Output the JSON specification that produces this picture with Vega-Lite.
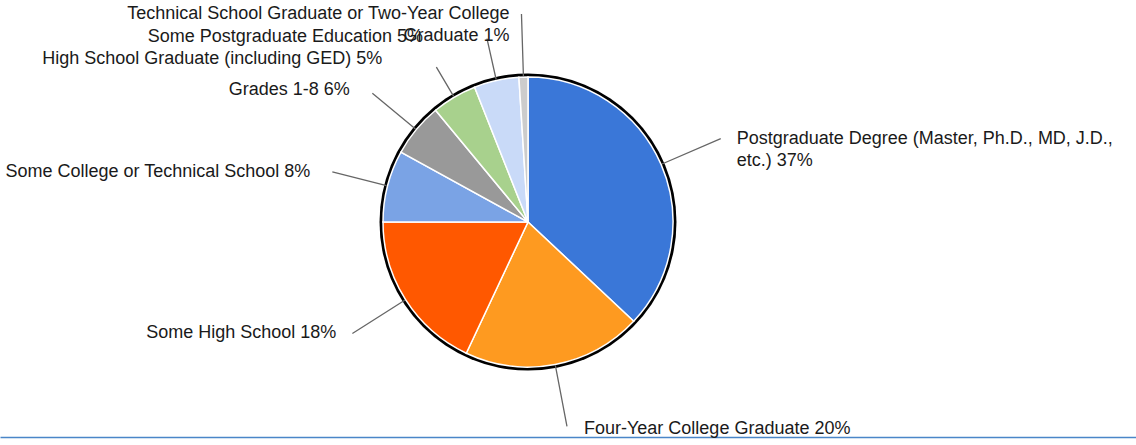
{
  "$schema": "https://vega.github.io/schema/vega-lite/v6.json",
  "autosize": {"type": "none"},
  "width": 1056,
  "height": 444,
  "padding": {"left": 0, "top": 0, "right": 80, "bottom": 1},
  "background": "white",
  "config": {"view": {"stroke": null}, "text": {"font": "Liberation Sans", "fontSize": 18, "color": "#1a1a1a", "lineBreak": "\n", "lineHeight": 22}},
  "data": {"values": [
    {"category": "Postgraduate Degree (Master, Ph.D., MD, J.D., etc.)", "pct": 37, "rank": 1, "label": "Postgraduate Degree (Master, Ph.D., MD, J.D.,\netc.) 37%"},
    {"category": "Four-Year College Graduate", "pct": 20, "rank": 2, "label": "Four-Year College Graduate 20%"},
    {"category": "Some High School", "pct": 18, "rank": 3, "label": "Some High School 18%"},
    {"category": "Some College or Technical School", "pct": 8, "rank": 4, "label": "Some College or Technical School 8%"},
    {"category": "Grades 1-8", "pct": 6, "rank": 5, "label": "Grades 1-8 6%"},
    {"category": "High School Graduate (including GED)", "pct": 5, "rank": 6, "label": "High School Graduate (including GED) 5%"},
    {"category": "Some Postgraduate Education", "pct": 5, "rank": 7, "label": "Some Postgraduate Education 5%"},
    {"category": "Technical School Graduate or Two-Year College Graduate", "pct": 1, "rank": 8, "label": "Technical School Graduate or Two-Year College\nGraduate 1%"}
  ]},
  "layer": [
    {
      "mark": {"type": "point", "opacity": 0},
      "encoding": {
        "x": {"field": "pct", "type": "quantitative", "scale": {"range": [0, 1136]},
              "axis": {"domainColor": "#4a86c8", "domainWidth": 1.5, "ticks": false, "labels": false, "grid": false, "title": null, "offset": -7}}
      }
    },
    {
      "transform": [{"aggregate": [{"op": "sum", "field": "pct", "as": "total"}]}],
      "mark": {"type": "arc", "radius": 148.5, "fill": "#000000", "stroke": null},
      "encoding": {"theta": {"field": "total", "type": "quantitative", "stack": true}}
    },
    {
      "mark": {"type": "arc", "radius": 145, "stroke": "#ffffff", "strokeWidth": 1.5},
      "encoding": {
        "theta": {"field": "pct", "type": "quantitative", "stack": true},
        "order": {"field": "rank", "type": "quantitative"},
        "color": {"field": "category", "type": "nominal", "legend": null,
          "scale": {
            "domain": ["Postgraduate Degree (Master, Ph.D., MD, J.D., etc.)", "Four-Year College Graduate", "Some High School", "Some College or Technical School", "Grades 1-8", "High School Graduate (including GED)", "Some Postgraduate Education", "Technical School Graduate or Two-Year College Graduate"],
            "range": ["#3a77d8", "#fe9a20", "#ff5800", "#7aa3e5", "#999999", "#a8d18d", "#c9daf8", "#cccccc"]
          }}
      }
    },
    {"mark": {"type": "arc", "radius": 210, "radius2": 146, "padAngle": 3, "filled": false, "stroke": "#666666", "strokeWidth": 1.3},
     "encoding": {"theta": {"field": "pct", "type": "quantitative", "stack": true}, "order": {"field": "rank", "type": "quantitative"},
       "strokeOpacity": {"condition": {"test": "datum.rank == 1", "value": 1}, "value": 0}}},
    {"mark": {"type": "arc", "radius": 208, "radius2": 146, "padAngle": 3, "filled": false, "stroke": "#666666", "strokeWidth": 1.3},
     "encoding": {"theta": {"field": "pct", "type": "quantitative", "stack": true}, "order": {"field": "rank", "type": "quantitative"},
       "strokeOpacity": {"condition": {"test": "datum.rank == 2 || datum.rank == 3 || datum.rank == 8", "value": 1}, "value": 0}}},
    {"mark": {"type": "arc", "radius": 202, "radius2": 146, "padAngle": 3, "filled": false, "stroke": "#666666", "strokeWidth": 1.3},
     "encoding": {"theta": {"field": "pct", "type": "quantitative", "stack": true}, "order": {"field": "rank", "type": "quantitative"},
       "strokeOpacity": {"condition": {"test": "datum.rank == 4 || datum.rank == 5", "value": 1}, "value": 0}}},
    {"mark": {"type": "arc", "radius": 180, "radius2": 146, "padAngle": 3, "filled": false, "stroke": "#666666", "strokeWidth": 1.3},
     "encoding": {"theta": {"field": "pct", "type": "quantitative", "stack": true}, "order": {"field": "rank", "type": "quantitative"},
       "strokeOpacity": {"condition": {"test": "datum.rank == 6", "value": 1}, "value": 0}}},
    {"mark": {"type": "arc", "radius": 188, "radius2": 146, "padAngle": 3, "filled": false, "stroke": "#666666", "strokeWidth": 1.3},
     "encoding": {"theta": {"field": "pct", "type": "quantitative", "stack": true}, "order": {"field": "rank", "type": "quantitative"},
       "strokeOpacity": {"condition": {"test": "datum.rank == 7", "value": 1}, "value": 0}}},
    {"mark": {"type": "text", "radius": 210, "align": "left", "dx": 16, "dy": 0},
     "encoding": {"theta": {"field": "pct", "type": "quantitative", "stack": true}, "order": {"field": "rank", "type": "quantitative"},
       "text": {"condition": {"test": "datum.rank == 1", "field": "label"}, "value": ""}}},
    {"mark": {"type": "text", "radius": 208, "align": "left", "dx": 17, "dy": 3},
     "encoding": {"theta": {"field": "pct", "type": "quantitative", "stack": true}, "order": {"field": "rank", "type": "quantitative"},
       "text": {"condition": {"test": "datum.rank == 2", "field": "label"}, "value": ""}}},
    {"mark": {"type": "text", "radius": 208, "align": "right", "dx": -16, "dy": 0},
     "encoding": {"theta": {"field": "pct", "type": "quantitative", "stack": true}, "order": {"field": "rank", "type": "quantitative"},
       "text": {"condition": {"test": "datum.rank == 3", "field": "label"}, "value": ""}}},
    {"mark": {"type": "text", "radius": 201, "align": "right", "dx": -23, "dy": 0},
     "encoding": {"theta": {"field": "pct", "type": "quantitative", "stack": true}, "order": {"field": "rank", "type": "quantitative"},
       "text": {"condition": {"test": "datum.rank == 4", "field": "label"}, "value": ""}}},
    {"mark": {"type": "text", "radius": 204, "align": "right", "dx": -21, "dy": -2},
     "encoding": {"theta": {"field": "pct", "type": "quantitative", "stack": true}, "order": {"field": "rank", "type": "quantitative"},
       "text": {"condition": {"test": "datum.rank == 5", "field": "label"}, "value": ""}}},
    {"mark": {"type": "text", "radius": 180, "align": "right", "dx": -54, "dy": -8},
     "encoding": {"theta": {"field": "pct", "type": "quantitative", "stack": true}, "order": {"field": "rank", "type": "quantitative"},
       "text": {"condition": {"test": "datum.rank == 6", "field": "label"}, "value": ""}}},
    {"mark": {"type": "text", "radius": 188, "align": "right", "dx": -64, "dy": -2},
     "encoding": {"theta": {"field": "pct", "type": "quantitative", "stack": true}, "order": {"field": "rank", "type": "quantitative"},
       "text": {"condition": {"test": "datum.rank == 7", "field": "label"}, "value": ""}}},
    {"mark": {"type": "text", "radius": 208, "align": "right", "dx": -12, "dy": 0},
     "encoding": {"theta": {"field": "pct", "type": "quantitative", "stack": true}, "order": {"field": "rank", "type": "quantitative"},
       "text": {"condition": {"test": "datum.rank == 8", "field": "label"}, "value": ""}}}
  ]
}
